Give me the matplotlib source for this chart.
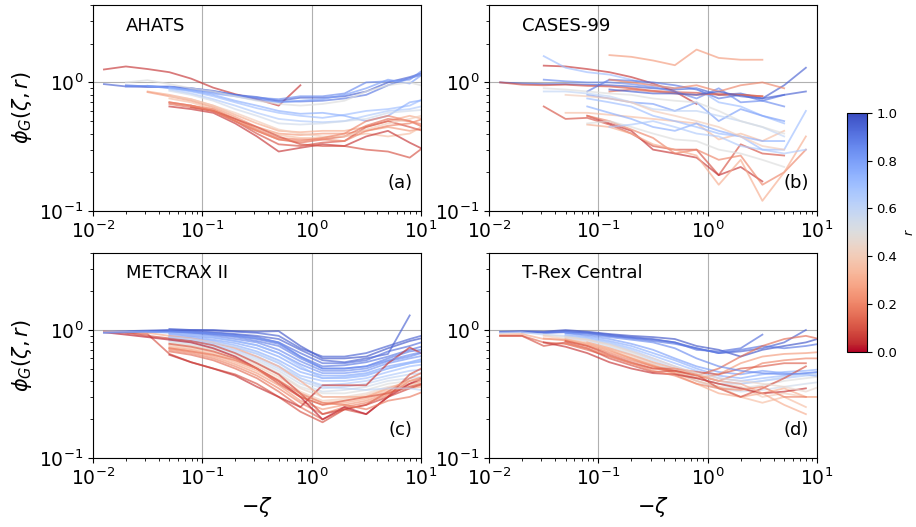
import numpy as np
import matplotlib
matplotlib.use('Agg')
import matplotlib.pyplot as plt

n = np.nan

# bin centres of -zeta
zeta = [0.0126, 0.02, 0.0316, 0.05, 0.079, 0.126, 0.2, 0.316, 0.5, 0.79,
        1.26, 2.0, 3.16, 5.0, 7.9, 12.6]

# AHATS
ahats_r = [0.05, 0.95, 0.9, 0.85, 0.8, 0.5, 0.7, 0.75, 0.65, 0.55,
           0.3, 0.25, 0.35, 0.1, 0.05, 0.15, 0.2, 0.1, 0.4, 0.2]
ahats_phi = [
    [1.26, 1.33, 1.27, 1.2, 1.07, 0.91, 0.81, 0.74, 0.66, 0.95, n, n, n, n, n, n],
    [0.97, 0.93, 0.92, 0.92, 0.9, 0.86, 0.8, 0.77, 0.72, 0.76, 0.76, 0.78, 0.85, 1.0, 1.1, 1.25],
    [n, 0.95, 0.93, 0.93, 0.9, 0.85, 0.8, 0.75, 0.71, 0.71, 0.72, 0.75, 0.8, 0.95, 1.08, 1.2],
    [n, 0.93, 0.94, 0.91, 0.88, 0.84, 0.79, 0.76, 0.74, 0.78, 0.78, 0.82, 1.0, 1.02, 1.05, 1.4],
    [n, n, 0.94, 0.9, 0.87, 0.82, 0.78, 0.73, 0.7, 0.72, 0.74, 0.8, 0.9, 1.05, 0.98, 1.3],
    [n, 1.0, 1.04, 0.97, 0.9, 0.85, 0.78, 0.72, 0.68, 0.66, 0.68, 0.72, 0.85, 0.95, 1.0, 0.9],
    [n, n, n, 0.9, 0.85, 0.78, 0.7, 0.63, 0.58, 0.55, 0.53, 0.56, 0.6, 0.62, 0.66, 0.8],
    [n, n, n, 0.92, 0.86, 0.8, 0.72, 0.66, 0.6, 0.57, 0.58, 0.55, 0.5, 0.55, 0.7, 0.75],
    [n, n, n, 0.88, 0.82, 0.74, 0.66, 0.58, 0.52, 0.5, 0.49, 0.5, 0.55, 0.6, 0.62, 0.68],
    [n, n, n, 0.86, 0.8, 0.72, 0.62, 0.55, 0.48, 0.47, 0.48, 0.5, 0.52, 0.58, 0.6, 0.62],
    [n, n, 0.85, 0.8, 0.74, 0.66, 0.56, 0.48, 0.42, 0.41, 0.42, 0.42, 0.45, 0.5, 0.55, 0.5],
    [n, n, 0.84, 0.78, 0.72, 0.64, 0.54, 0.45, 0.4, 0.39, 0.4, 0.4, 0.42, 0.45, 0.42, 0.45],
    [n, n, n, 0.75, 0.7, 0.62, 0.52, 0.44, 0.39, 0.37, 0.37, 0.38, 0.4, 0.38, 0.4, 0.5],
    [n, n, n, 0.7, 0.66, 0.6, 0.5, 0.4, 0.33, 0.32, 0.34, 0.35, 0.45, 0.5, 0.45, 0.4],
    [n, n, n, 0.65, 0.62, 0.58, 0.48, 0.38, 0.29, 0.31, 0.33, 0.32, 0.38, 0.42, 0.34, 0.28],
    [n, n, n, 0.68, 0.64, 0.6, 0.5, 0.42, 0.36, 0.34, 0.36, 0.38, 0.46, 0.52, 0.5, 0.42],
    [n, n, n, n, 0.66, 0.62, 0.52, 0.43, 0.37, 0.36, 0.36, 0.35, 0.42, 0.46, 0.48, 0.55],
    [n, n, n, n, 0.64, 0.6, 0.52, 0.45, 0.38, 0.33, 0.32, 0.32, 0.3, 0.29, 0.26, 0.35],
    [n, n, n, 0.78, 0.74, 0.66, 0.58, 0.5, 0.43, 0.4, 0.38, 0.38, 0.43, 0.48, 0.52, 0.58],
    [n, n, n, 0.7, 0.66, 0.6, 0.5, 0.42, 0.36, 0.35, 0.37, 0.4, 0.5, 0.55, 0.5, 0.45],
]

# CASES-99
cases_r = [0.25, 0.95, 0.1, 0.05, 0.7, 0.1, 0.05, 0.2, 0.35, 0.3, 0.9, 0.85,
           0.8, 0.75, 0.6, 0.5, 0.5, 0.65, 0.15, 0.2, 0.7, 0.95, 0.4]
cases_phi = [
    [n, n, n, n, n, 1.63, 1.58, 1.48, 1.36, 1.8, 1.55, 1.5, 1.5, n, n, n],
    [1.0, 0.98, 0.97, 0.97, 0.96, 0.95, 0.93, 0.9, 0.88, 0.9, 0.8, 0.82, 0.75, 0.95, 1.3, n],
    [1.0, 0.96, 0.95, 0.96, 0.94, 0.93, 0.9, 0.86, 0.84, 0.83, 0.8, 0.8, 0.78, n, n, n],
    [n, n, 1.35, 1.33, 1.27, 1.2, 1.1, 0.98, 0.85, 0.68, n, n, n, n, n, n],
    [n, n, 1.6, 1.3, 1.2, 1.15, 1.05, 0.95, 0.9, 0.9, 0.7, 0.65, 0.55, 0.48, n, n],
    [n, n, 0.65, 0.52, 0.53, 0.47, 0.4, 0.32, 0.3, 0.3, 0.19, 0.33, 0.28, 0.27, n, n],
    [n, n, n, n, 0.55, 0.48, 0.42, 0.3, 0.28, 0.26, 0.19, 0.22, 0.17, n, n, n],
    [n, n, n, n, 0.55, 0.5, 0.43, 0.37, 0.28, 0.3, 0.25, 0.27, 0.16, 0.2, 0.3, n],
    [n, n, n, 0.58, 0.58, 0.56, 0.54, 0.52, 0.5, 0.48, 0.36, 0.4, 0.35, 0.42, n, n],
    [n, n, n, n, 0.47, 0.45, 0.4, 0.33, 0.3, 0.27, 0.16, 0.25, 0.12, 0.2, 0.38, n],
    [n, n, n, n, 0.85, 1.05, 1.03, 1.0, 0.95, 0.88, 0.75, 0.8, 0.72, 0.8, n, n],
    [n, n, 1.05, 1.02, 1.0, 1.0, 0.97, 0.92, 0.85, 0.75, 0.9, 0.7, 0.72, 0.65, n, n],
    [n, n, n, n, 0.8, 0.75, 0.7, 0.68, 0.6, 0.7, 0.5, 0.62, 0.55, 0.5, n, n],
    [n, n, n, n, 0.65, 0.58, 0.52, 0.45, 0.42, 0.48, 0.42, 0.38, 0.35, 0.35, n, n],
    [n, n, 0.85, 0.85, 0.82, 0.78, 0.7, 0.62, 0.6, 0.6, 0.55, 0.5, 0.45, 0.38, n, n],
    [n, n, 0.9, 0.88, 0.85, 0.82, 0.8, 0.75, 0.72, 0.7, 0.6, 0.5, 0.45, 0.4, n, n],
    [n, n, n, n, 0.48, 0.5, 0.45, 0.4, 0.36, 0.35, 0.3, 0.28, 0.25, 0.22, n, n],
    [n, n, n, n, n, 0.45, 0.47, 0.5, 0.45, 0.4, 0.38, 0.32, 0.3, 0.28, 0.3, n],
    [n, n, n, n, n, 0.85, 0.88, 0.85, 0.82, 0.8, 0.82, 0.8, 0.78, n, n, n],
    [n, n, n, n, n, 1.05, 1.0, 0.95, 0.9, 0.95, 0.85, 0.95, 1.0, 0.9, n, n],
    [n, n, n, n, 0.75, 0.7, 0.65, 0.55, 0.5, 0.45, 0.4, 0.38, 0.3, 0.3, 0.6, n],
    [n, n, n, n, n, 0.88, 0.85, 0.82, 0.82, 0.8, 0.85, 0.78, 0.75, 0.8, 0.85, n],
    [n, n, n, 0.8, 0.78, 0.75, 0.7, 0.6, 0.55, 0.5, 0.45, 0.38, 0.32, 0.3, n, n],
]

# METCRAX II
metcrax_r = [0.98, 0.95, 0.92, 0.9, 0.88, 0.85, 0.82, 0.78, 0.75, 0.7, 0.65,
             0.6, 0.55, 0.5, 0.45, 0.4, 0.35, 0.3, 0.25, 0.2, 0.15, 0.1,
             0.05, 0.02, 0.08, 0.3, 0.7, 0.85, 0.12, 0.95, 0.18, 0.6]
metcrax_phi = [
    [0.97, 0.98, 0.99, 1.0, 1.0, 1.0, 0.98, 0.97, 0.98, 0.75, 0.6, 0.6, 0.62, 0.72, 0.82, 0.9],
    [0.96, 0.97, 0.98, 0.99, 0.98, 0.96, 0.93, 0.9, 0.85, 0.7, 0.58, 0.56, 0.6, 0.65, 1.3, n],
    [n, 0.96, 0.97, 0.98, 0.97, 0.95, 0.92, 0.88, 0.8, 0.66, 0.55, 0.55, 0.58, 0.68, 0.75, 0.85],
    [n, n, 0.96, 0.97, 0.95, 0.93, 0.9, 0.85, 0.78, 0.62, 0.52, 0.53, 0.56, 0.62, 0.7, 0.78],
    [n, n, n, 0.98, 0.96, 0.92, 0.88, 0.82, 0.75, 0.6, 0.5, 0.5, 0.52, 0.6, 0.68, 0.72],
    [n, n, n, 0.95, 0.93, 0.9, 0.85, 0.8, 0.7, 0.57, 0.48, 0.48, 0.5, 0.57, 0.62, 0.7],
    [n, n, n, 0.93, 0.9, 0.87, 0.82, 0.76, 0.66, 0.54, 0.46, 0.46, 0.48, 0.55, 0.6, 0.65],
    [n, n, n, 0.9, 0.88, 0.84, 0.79, 0.72, 0.62, 0.5, 0.44, 0.44, 0.46, 0.52, 0.56, 0.62],
    [n, n, n, 0.88, 0.86, 0.82, 0.76, 0.68, 0.58, 0.47, 0.42, 0.42, 0.44, 0.5, 0.55, 0.58],
    [n, n, n, 0.86, 0.83, 0.79, 0.73, 0.65, 0.55, 0.44, 0.4, 0.4, 0.42, 0.47, 0.52, 0.55],
    [n, n, n, 0.85, 0.82, 0.77, 0.7, 0.62, 0.52, 0.42, 0.37, 0.38, 0.4, 0.44, 0.48, 0.5],
    [n, n, n, 0.83, 0.8, 0.75, 0.68, 0.6, 0.5, 0.4, 0.35, 0.36, 0.38, 0.42, 0.45, 0.47],
    [n, n, n, 0.82, 0.78, 0.73, 0.66, 0.58, 0.48, 0.38, 0.33, 0.34, 0.36, 0.4, 0.42, 0.44],
    [n, n, n, 0.8, 0.76, 0.71, 0.64, 0.56, 0.46, 0.36, 0.32, 0.32, 0.34, 0.38, 0.4, 0.42],
    [n, n, n, 0.78, 0.75, 0.7, 0.62, 0.54, 0.45, 0.35, 0.3, 0.3, 0.32, 0.36, 0.38, 0.4],
    [n, n, n, 0.77, 0.73, 0.68, 0.6, 0.52, 0.43, 0.33, 0.28, 0.29, 0.31, 0.35, 0.37, 0.4],
    [n, n, n, 0.75, 0.71, 0.66, 0.58, 0.5, 0.41, 0.31, 0.27, 0.28, 0.3, 0.34, 0.36, 0.38],
    [n, n, n, 0.73, 0.7, 0.64, 0.56, 0.48, 0.39, 0.3, 0.26, 0.27, 0.29, 0.33, 0.35, 0.37],
    [n, n, n, 0.72, 0.68, 0.62, 0.54, 0.46, 0.37, 0.28, 0.24, 0.26, 0.28, 0.32, 0.38, 0.42],
    [n, n, n, 0.7, 0.66, 0.6, 0.52, 0.44, 0.35, 0.27, 0.22, 0.25, 0.27, 0.31, 0.4, 0.45],
    [n, n, n, 0.68, 0.64, 0.58, 0.5, 0.42, 0.33, 0.25, 0.2, 0.24, 0.26, 0.33, 0.42, 0.5],
    [0.97, 0.96, 0.93, 0.65, 0.56, 0.5, 0.45, 0.38, 0.3, 0.23, 0.19, 0.24, 0.22, 0.3, 0.45, 0.55],
    [n, n, n, 0.64, 0.56, 0.5, 0.44, 0.36, 0.3, 0.25, 0.37, 0.37, 0.37, 0.55, 0.73, 0.6],
    [0.96, 0.92, 0.88, 0.84, 0.8, 0.72, 0.62, 0.5, 0.4, 0.3, 0.2, 0.25, 0.22, 0.3, 0.38, 0.45],
    [0.97, 0.95, 0.9, 0.86, 0.82, 0.76, 0.66, 0.55, 0.45, 0.32, 0.22, 0.24, 0.26, 0.3, 0.35, 0.4],
    [0.97, 0.97, 0.95, 0.9, 0.86, 0.8, 0.72, 0.62, 0.52, 0.4, 0.3, 0.3, 0.3, 0.35, 0.4, 0.42],
    [0.96, 0.97, 0.97, 0.95, 0.92, 0.88, 0.82, 0.76, 0.66, 0.52, 0.42, 0.43, 0.45, 0.5, 0.55, 0.6],
    [0.95, 0.96, 0.97, 0.97, 0.96, 0.94, 0.9, 0.86, 0.8, 0.62, 0.5, 0.5, 0.52, 0.58, 0.64, 0.7],
    [n, n, n, 0.78, 0.74, 0.68, 0.6, 0.5, 0.38, 0.3, 0.26, 0.28, 0.3, 0.32, 0.36, 0.4],
    [n, n, n, 1.02, 1.0, 0.99, 0.97, 0.95, 0.9, 0.72, 0.62, 0.62, 0.66, 0.75, 0.85, 0.95],
    [n, n, n, 0.72, 0.68, 0.64, 0.58, 0.5, 0.4, 0.32, 0.27, 0.26, 0.24, 0.28, 0.3, 0.35],
    [n, n, n, 0.88, 0.85, 0.8, 0.74, 0.66, 0.56, 0.42, 0.36, 0.35, 0.34, 0.35, 0.35, 0.33],
]

# T-Rex Central
trex_r = [0.98, 0.95, 0.92, 0.9, 0.8, 0.75, 0.7, 0.65, 0.6, 0.5, 0.55, 0.4,
          0.35, 0.3, 0.25, 0.2, 0.15, 0.1, 0.05, 0.12, 0.3, 0.45, 0.85, 0.2]
trex_phi = [
    [0.97, 0.98, 0.97, 1.0, 0.97, 0.93, 0.9, 0.88, 0.85, 0.75, 0.7, 0.62, 0.7, 0.75, 0.8, 0.9],
    [0.96, 0.97, 0.96, 0.98, 0.96, 0.92, 0.88, 0.85, 0.8, 0.72, 0.66, 0.68, 0.72, 0.8, 1.0, n],
    [n, 0.96, 0.95, 0.96, 0.95, 0.9, 0.87, 0.84, 0.8, 0.7, 0.68, 0.72, 0.92, n, n, n],
    [n, n, 0.95, 0.97, 0.94, 0.9, 0.86, 0.82, 0.78, 0.72, 0.66, 0.7, 0.75, 0.72, 0.75, 0.8],
    [n, n, n, 0.95, 0.9, 0.85, 0.78, 0.7, 0.6, 0.52, 0.47, 0.45, 0.48, 0.46, 0.45, 0.42],
    [n, n, n, 0.92, 0.88, 0.82, 0.75, 0.66, 0.58, 0.5, 0.44, 0.42, 0.45, 0.47, 0.48, 0.5],
    [n, n, n, 0.9, 0.86, 0.8, 0.72, 0.63, 0.55, 0.48, 0.42, 0.4, 0.42, 0.44, 0.46, 0.47],
    [n, n, n, 0.9, 0.85, 0.78, 0.7, 0.6, 0.52, 0.45, 0.4, 0.38, 0.4, 0.42, 0.44, 0.45],
    [0.95, 0.96, 0.92, 0.9, 0.85, 0.78, 0.68, 0.58, 0.5, 0.42, 0.38, 0.38, 0.4, 0.43, 0.45, 0.46],
    [n, n, 0.92, 0.88, 0.84, 0.76, 0.66, 0.56, 0.48, 0.4, 0.36, 0.35, 0.37, 0.4, 0.42, 0.44],
    [n, n, n, 0.87, 0.82, 0.74, 0.64, 0.55, 0.47, 0.4, 0.35, 0.33, 0.34, 0.36, 0.38, 0.4],
    [n, n, 0.9, 0.85, 0.8, 0.72, 0.62, 0.54, 0.47, 0.42, 0.38, 0.36, 0.3, 0.32, 0.3, 0.3],
    [n, n, n, 0.85, 0.78, 0.7, 0.6, 0.52, 0.46, 0.4, 0.36, 0.3, 0.27, 0.3, 0.25, n],
    [0.92, 0.93, 0.85, 0.84, 0.78, 0.7, 0.6, 0.52, 0.45, 0.38, 0.32, 0.3, 0.32, 0.35, 0.3, 0.3],
    [n, n, 0.86, 0.83, 0.76, 0.68, 0.6, 0.53, 0.46, 0.42, 0.45, 0.55, 0.62, 0.65, 0.66, 0.68],
    [n, n, n, 0.82, 0.75, 0.66, 0.58, 0.52, 0.48, 0.44, 0.4, 0.46, 0.55, 0.58, 0.6, 0.6],
    [0.9, 0.9, 0.8, 0.78, 0.7, 0.62, 0.55, 0.5, 0.48, 0.44, 0.5, 0.62, 0.75, 0.85, 0.9, 0.82],
    [0.9, 0.9, 0.75, 0.8, 0.72, 0.6, 0.53, 0.47, 0.48, 0.45, 0.35, 0.3, 0.35, 0.42, 0.52, n],
    [n, n, 0.8, 0.74, 0.66, 0.56, 0.5, 0.46, 0.45, 0.42, 0.38, 0.35, 0.32, 0.33, 0.35, n],
    [n, n, n, 0.82, 0.75, 0.64, 0.56, 0.5, 0.5, 0.47, 0.45, 0.5, 0.52, 0.55, 0.55, n],
    [n, n, n, n, 0.8, 0.72, 0.64, 0.56, 0.5, 0.45, 0.4, 0.38, 0.32, 0.26, 0.22, n],
    [n, n, n, 0.88, 0.84, 0.77, 0.68, 0.6, 0.52, 0.46, 0.42, 0.4, 0.38, 0.36, 0.33, 0.38],
    [n, n, n, 0.95, 0.92, 0.88, 0.84, 0.8, 0.72, 0.6, 0.52, 0.48, 0.46, 0.45, 0.46, 0.48],
    [n, n, n, 0.78, 0.72, 0.63, 0.55, 0.48, 0.44, 0.38, 0.35, 0.34, 0.36, 0.3, 0.3, n],
]

names = ['AHATS', 'CASES-99', 'METCRAX II', 'T-Rex Central']
tags = ['(a)', '(b)', '(c)', '(d)']
all_r = [ahats_r, cases_r, metcrax_r, trex_r]
all_phi = [ahats_phi, cases_phi, metcrax_phi, trex_phi]

cmap = plt.get_cmap('coolwarm_r')
fig = plt.figure(figsize=(9.16, 5.27), dpi=100)

boxes = [[0.1015, 0.5996, 0.358, 0.391], [0.534, 0.5996, 0.358, 0.391],
         [0.1015, 0.131, 0.358, 0.389], [0.534, 0.131, 0.358, 0.389]]

for i in range(4):
    ax = fig.add_axes(boxes[i])
    for r, phi in zip(all_r[i], all_phi[i]):
        ax.plot(zeta, phi, color=cmap(r), alpha=0.65, lw=1.3)
    ax.set_xscale('log')
    ax.set_yscale('log')
    ax.set_xlim(1e-2, 1e1)
    ax.set_ylim(0.1, 4)
    ax.grid(True, which='major', color='#b0b0b0', lw=0.8)
    ax.tick_params(labelsize=13.5)
    ax.text(0.1, 0.9, names[i], transform=ax.transAxes, fontsize=13,
            va='center', ha='left')
    ax.text(0.975, 0.135, tags[i], transform=ax.transAxes, fontsize=13,
            va='center', ha='right')
    if i % 2 == 0:
        ax.set_ylabel(r'$\phi_G(\zeta,r)$', fontsize=15)
    if i >= 2:
        ax.set_xlabel(r'$-\zeta$', fontsize=15)

cax = fig.add_axes([0.925, 0.332, 0.021, 0.454])
sm = matplotlib.cm.ScalarMappable(cmap=cmap, norm=plt.Normalize(0, 1))
cb = fig.colorbar(sm, cax=cax)
cb.set_ticks([0, 0.2, 0.4, 0.6, 0.8, 1.0])
cb.ax.tick_params(labelsize=9.5)
cb.set_label('$r$', fontsize=9)

fig.savefig('out.png', dpi=100)
